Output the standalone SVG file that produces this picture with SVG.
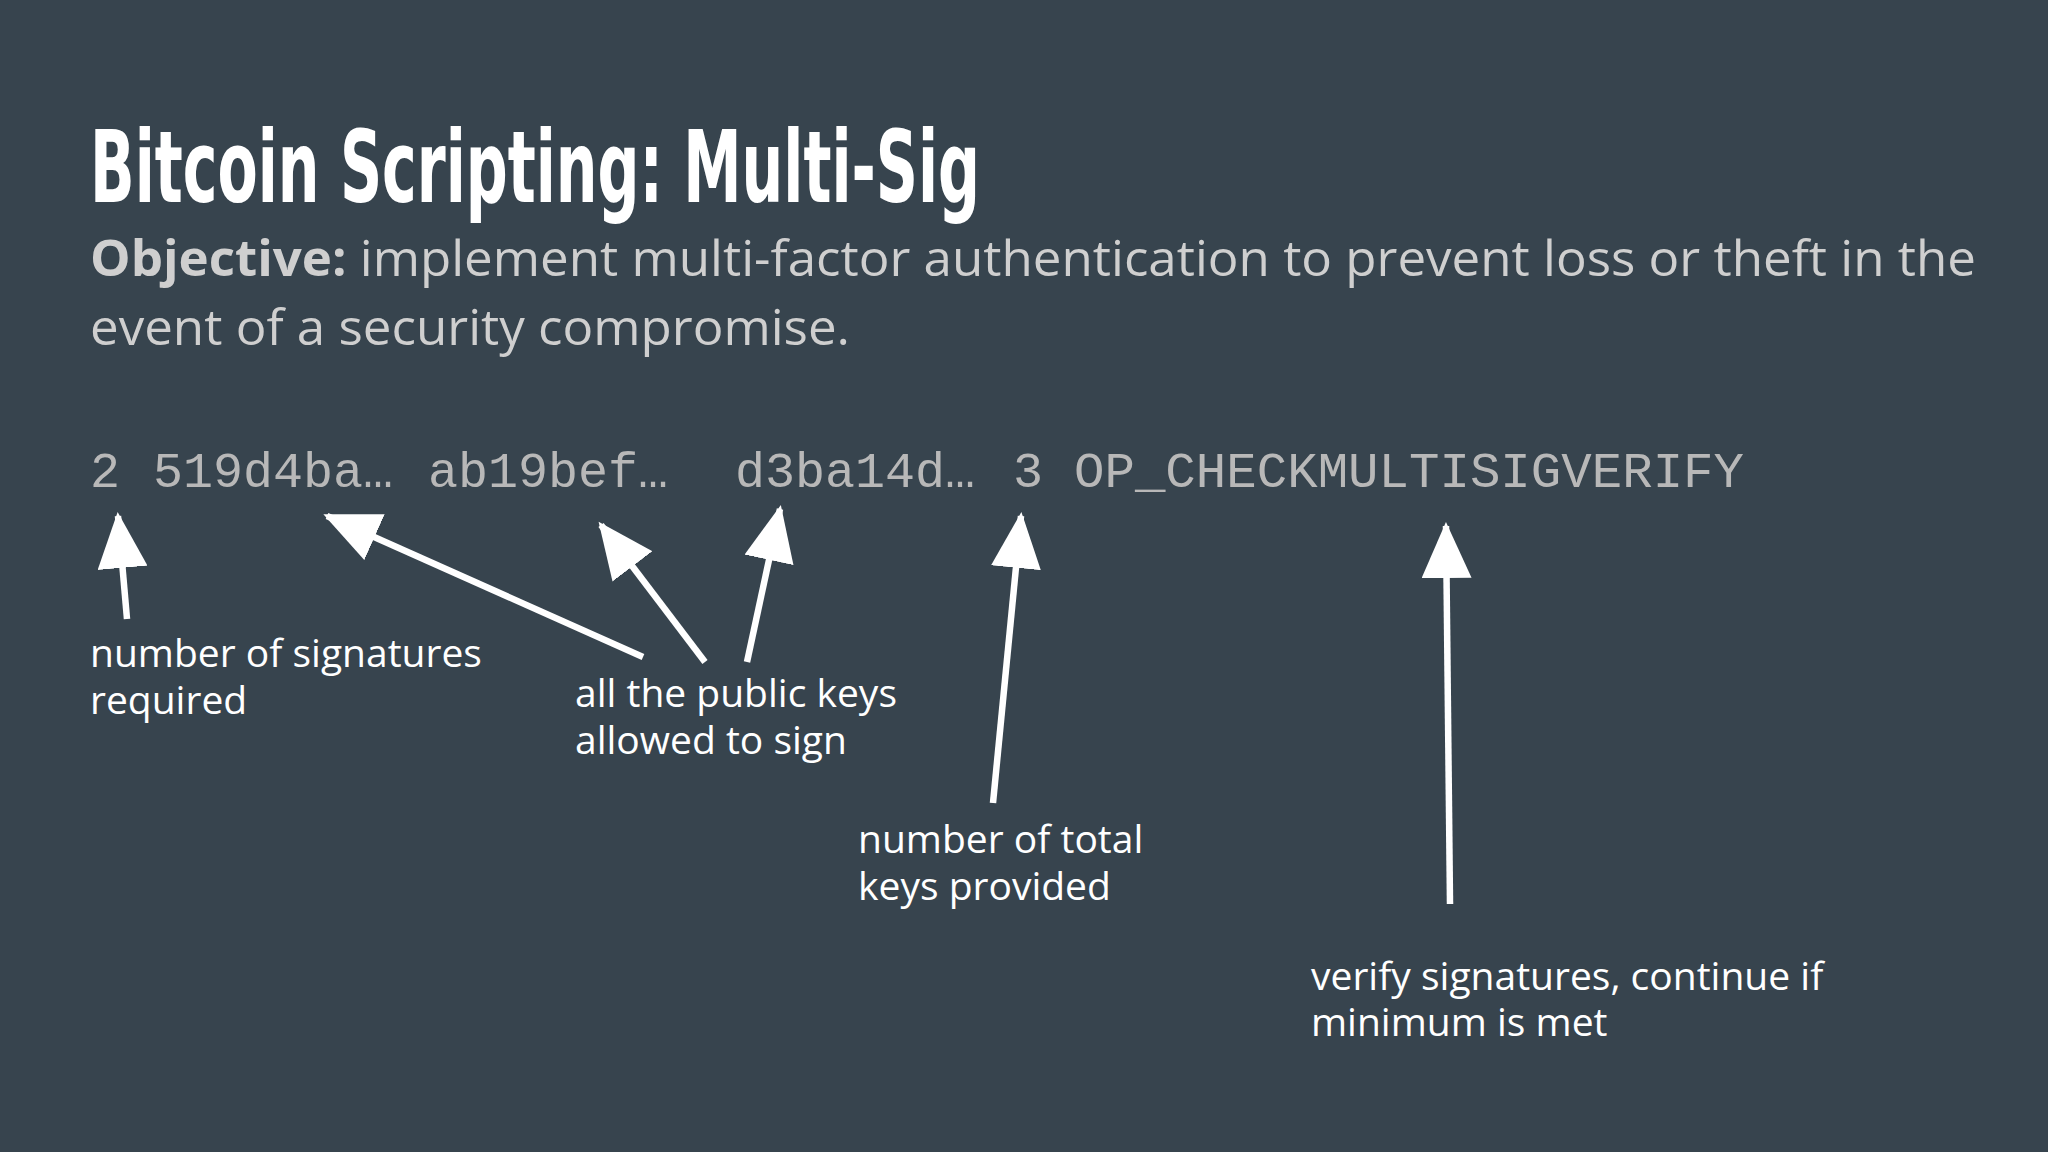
<svg xmlns="http://www.w3.org/2000/svg" width="2048" height="1152" viewBox="0 0 2048 1152">
<style>
.lbl{font-family:"Open Sans","Noto Sans",sans-serif;font-size:39px;fill:#ffffff}
.code{font-family:"Liberation Mono","DejaVu Sans Mono",monospace;font-size:50px;fill:#b8b8b8}
.ar{stroke:#ffffff;stroke-width:6.5;fill:none;marker-end:url(#ah)}
</style>
<defs>
<marker id="ah" markerUnits="userSpaceOnUse" markerWidth="60" markerHeight="50" refX="52" refY="25" orient="auto">
<path d="M0,0 L56,25 L0,50 Z" fill="#ffffff"/>
</marker>
</defs>
<rect width="2048" height="1152" fill="#37444e"/>
<g id="title">
<text x="90" y="202" font-family="DejaVu Sans Condensed, Liberation Sans Narrow, sans-serif" font-stretch="condensed" font-weight="bold" font-size="100" fill="#ffffff" textLength="890" lengthAdjust="spacingAndGlyphs">Bitcoin Scripting: Multi-Sig</text>
</g>
<g id="objective" font-family="Open Sans, Noto Sans, sans-serif" font-size="50" fill="#cfcfcf">
<text x="90" y="276" textLength="1886" lengthAdjust="spacingAndGlyphs"><tspan font-weight="bold">Objective:</tspan> implement multi-factor authentication to prevent loss or theft in the</text>
<text x="90" y="345" textLength="760" lengthAdjust="spacingAndGlyphs">event of a security compromise.</text>
</g>
<g id="script">
<text class="code" x="90" y="487">2</text>
<text class="code" x="153" y="487">519d4ba…</text>
<text class="code" x="428" y="487">ab19bef…</text>
<text class="code" x="735" y="487">d3ba14d…</text>
<text class="code" x="1013" y="487">3</text>
<text class="code" x="1074" y="487" textLength="670" lengthAdjust="spacingAndGlyphs">OP_CHECKMULTISIGVERIFY</text>
</g>
<g id="n1"><text class="lbl" x="90" y="667">number of signatures</text><text class="lbl" x="90" y="714">required</text></g>
<g id="n2"><text class="lbl" x="575" y="707">all the public keys</text><text class="lbl" x="575" y="754">allowed to sign</text></g>
<g id="n3"><text class="lbl" x="858" y="853">number of total</text><text class="lbl" x="858" y="900">keys provided</text></g>
<g id="n4"><text class="lbl" x="1311" y="990">verify signatures, continue if</text><text class="lbl" x="1311" y="1036">minimum is met</text></g>
<g id="connectors">
<line class="ar" x1="127" y1="619" x2="118" y2="516"/>
<line class="ar" x1="643" y1="657" x2="327" y2="516"/>
<line class="ar" x1="705" y1="662" x2="601" y2="525"/>
<line class="ar" x1="747" y1="662" x2="780" y2="509"/>
<line class="ar" x1="993" y1="803" x2="1021" y2="516"/>
<line class="ar" x1="1450" y1="904" x2="1446" y2="526"/>
</g>
</svg>
